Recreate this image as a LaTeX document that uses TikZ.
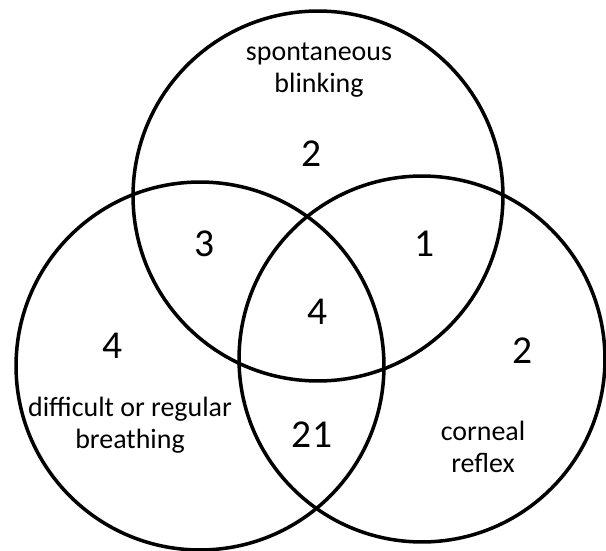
\documentclass[tikz,border=0pt]{standalone}
\usepackage{fontspec}
\setmainfont{Carlito}

\begin{document}
\begin{tikzpicture}[
  x=0.02cm, y=-0.02cm,
  set/.style={draw=black, line width=2pt},
  lbl/.style={align=center, inner sep=0pt, anchor=base, font=\fontsize{15.9}{18}\selectfont},
  cnt/.style={inner sep=0pt, anchor=base, font=\fontsize{22.5}{26}\selectfont}
]
  \useasboundingbox (0,0) rectangle (606,551);

  % centres of the three sets
  \coordinate (blink) at (318,196);
  \coordinate (breath) at (200,366);
  \coordinate (cornea) at (422,359);

  \draw[set] (blink) circle (3.70cm);
  \draw[set] (breath) circle (3.68cm);
  \draw[set] (cornea) circle (3.66cm);

  % set names (base = last line)
  \node[lbl] (blinkname) at (319,92) {spontaneous\\blinking};
  \node[lbl] (breathname) at (130,448) {difficult or regular\\breathing};
  \node[lbl] (corneaname) at (483,472) {corneal\\reflex};

  % counts per region
  \node[cnt] (nblink) at (312,166) {2};
  \node[cnt] (nbreath) at (113,358) {4};
  \node[cnt] (ncornea) at (523,363) {2};
  \node[cnt] (nbb) at (205,256) {3};
  \node[cnt] (nbc) at (425,256) {1};
  \node[cnt] (nrc) at (312,447) {21};
  \node[cnt] (nall) at (318,324) {4};
\end{tikzpicture}
\end{document}
